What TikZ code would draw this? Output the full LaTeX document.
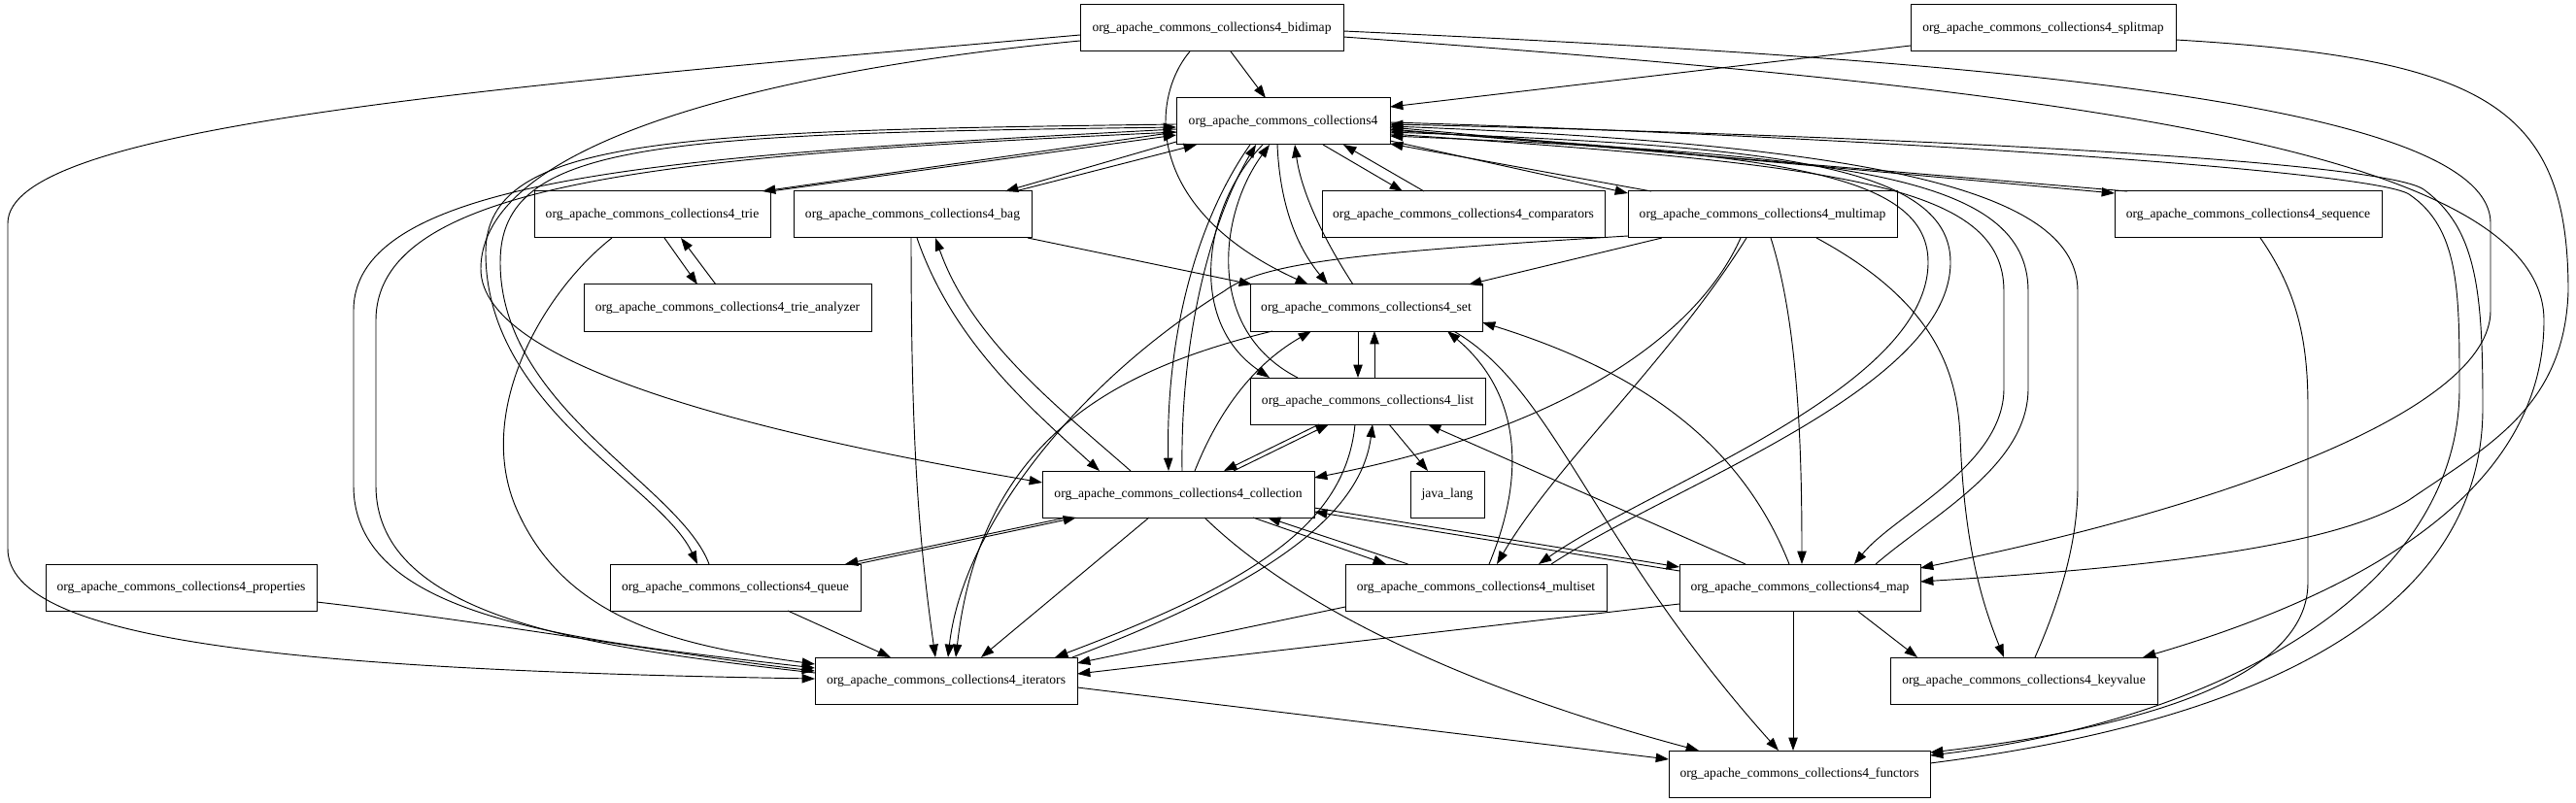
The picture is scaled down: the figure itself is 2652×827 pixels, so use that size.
\documentclass[tikz,border=0pt]{standalone}
\usepackage{fontspec}
\setmainfont{Liberation Serif}
\usetikzlibrary{calc,arrows.meta}
\begin{document}
\begin{tikzpicture}[x=0.75pt,y=-0.75pt,
  box/.style={draw,line width=0.75pt,rectangle,inner sep=0pt,minimum height=36pt,font=\fontsize{10.2}{12}\selectfont},
  bw/.style={minimum width=#1*0.75pt},
  e/.style={line width=0.7pt,-{Triangle[length=10pt,width=7pt]}}]
\useasboundingbox (0,0) rectangle (2652,827);
\node[box,bw=271] (B) at (1247.5,29) {org\_apache\_commons\_collections4\_bidimap};
\node[box,bw=273] (S) at (2103.5,29) {org\_apache\_commons\_collections4\_splitmap};
\node[box,bw=220] (C) at (1321,125) {org\_apache\_commons\_collections4};
\node[box,bw=243] (T) at (671.5,221) {org\_apache\_commons\_collections4\_trie};
\node[box,bw=245] (G) at (939.5,221) {org\_apache\_commons\_collections4\_bag};
\node[box,bw=296] (A) at (749,317) {org\_apache\_commons\_collections4\_trie\_analyzer};
\node[box,bw=291] (P) at (1506.5,221) {org\_apache\_commons\_collections4\_comparators};
\node[box,bw=277] (MM) at (1814.5,221) {org\_apache\_commons\_collections4\_multimap};
\node[box,bw=275] (Q) at (2314.5,221) {org\_apache\_commons\_collections4\_sequence};
\node[box,bw=239] (ST) at (1406.5,317) {org\_apache\_commons\_collections4\_set};
\node[box,bw=242] (L) at (1408,413) {org\_apache\_commons\_collections4\_list};
\node[box,bw=280] (CO) at (1213,509) {org\_apache\_commons\_collections4\_collection};
\node[box,bw=76] (J) at (1490,509) {java\_lang};
\node[box,bw=258] (QU) at (757,605) {org\_apache\_commons\_collections4\_queue};
\node[box,bw=279] (PR) at (186.5,605) {org\_apache\_commons\_collections4\_properties};
\node[box,bw=269] (MS) at (1519.5,605) {org\_apache\_commons\_collections4\_multiset};
\node[box,bw=248] (MP) at (1853,605) {org\_apache\_commons\_collections4\_map};
\node[box,bw=270] (IT) at (974,701) {org\_apache\_commons\_collections4\_iterators};
\node[box,bw=275] (KV) at (2083.5,701) {org\_apache\_commons\_collections4\_keyvalue};
\node[box,bw=269] (F) at (1852.5,797) {org\_apache\_commons\_collections4\_functors};
% bidimap
\draw[e] ($(B)+(19.5,24)$) -- ($(C)+(-18,-24)$);
\draw[e] ($(B)+(-22.5,24)$) .. controls (1185,100) and (1175,215) .. ($(ST)+(-59.5,-24)$);
\draw[e] ($(B)+(-135.5,13)$) .. controls (820,70) and (495,140) .. (495,277) .. controls (495,380) and (800,450) .. ($(CO)+(-140,-12)$);
\draw[e] ($(B)+(-135.5,7)$) .. controls (500,90) and (8,130) .. (8,230) -- (8,565) .. controls (8,660) and (300,690) .. ($(IT)+(-135,-2)$);
\draw[e] ($(B)+(135.5,3)$) .. controls (2000,60) and (2564,100) .. (2564,230) -- (2564,320) .. controls (2564,420) and (2300,520) .. ($(MP)+(124,-20)$);
\draw[e] ($(B)+(135.5,9)$) .. controls (2100,90) and (2619,150) .. (2619,330) .. controls (2619,520) and (2400,620) .. ($(KV)+(122.5,-24)$);
% splitmap
\draw[e] ($(S)+(-136.5,18)$) -- ($(C)+(110,-15)$);
\draw[e] ($(S)+(136.5,12)$) .. controls (2560,60) and (2644,110) .. (2644,300) .. controls (2640,420) and (2560,460) .. (2480,515) .. controls (2400,565) and (2200,585) .. ($(MP)+(124,-6)$);
% collections4 pairs
\draw[e] ($(C)+(-110,11)$) -- ($(T)+(113.5,-24)$);
\draw[e] ($(T)+(121.5,-24)$) -- ($(C)+(-110,14)$);
\draw[e] ($(C)+(-110,21)$) -- ($(G)+(95.5,-24)$);
\draw[e] ($(G)+(105.5,-24)$) -- ($(C)+(-89,24)$);
\draw[e] ($(C)+(41,24)$) -- ($(P)+(-62.5,-24)$);
\draw[e] ($(P)+(-40.5,-24)$) -- ($(C)+(62,24)$);
\draw[e] ($(C)+(110,20)$) -- ($(MM)+(-138.5,-22)$);
\draw[e] ($(MM)+(-114.5,-24)$) -- ($(C)+(110,23)$);
\draw[e] ($(C)+(110,6)$) -- ($(Q)+(-137.5,-22)$);
\draw[e] ($(Q)+(-124.5,-24)$) -- ($(C)+(110,8)$);
\draw[e] ($(C)+(-6,24)$) .. controls (1318,220) and (1340,260) .. ($(ST)+(-39.5,-24)$);
\draw[e] ($(ST)+(-13.5,-24)$) .. controls (1365,250) and (1340,200) .. ($(C)+(12,24)$);
\draw[e] ($(C)+(-21,24)$) .. controls (1240,210) and (1220,330) .. ($(L)+(-101,-24)$);
\draw[e] ($(L)+(-72,-24)$) .. controls (1240,340) and (1255,220) .. ($(C)+(-14,24)$);
\draw[e] ($(C)+(-34,24)$) .. controls (1230,230) and (1200,350) .. ($(CO)+(-10,-24)$);
\draw[e] ($(CO)+(4,-24)$) .. controls (1215,350) and (1245,230) .. ($(C)+(-28,24)$);
\draw[e] ($(C)+(-110,3)$) .. controls (700,135) and (500,140) .. (500,260) .. controls (500,420) and (680,500) .. ($(QU)+(-39,-24)$);
\draw[e] ($(QU)+(-27,-24)$) .. controls (700,500) and (515,420) .. (515,270) .. controls (515,145) and (680,138) .. ($(C)+(-110,6)$);
\draw[e] ($(C)+(-110,8)$) .. controls (700,160) and (364,180) .. (364,320) -- (364,500) .. controls (364,640) and (600,660) .. ($(IT)+(-135,-13)$);
\draw[e] ($(IT)+(-135,-8)$) .. controls (620,668) and (387,640) .. (387,500) -- (387,330) .. controls (387,185) and (700,160) .. ($(C)+(-110,11)$);
\draw[e] ($(C)+(110,9)$) .. controls (1800,160) and (1985,170) .. (1985,270) .. controls (1985,400) and (1700,500) .. ($(MS)+(64.5,-24)$);
\draw[e] ($(MS)+(77.5,-24)$) .. controls (1720,500) and (2008,400) .. (2008,270) .. controls (2008,165) and (1800,150) .. ($(C)+(110,11)$);
\draw[e] ($(C)+(110,13)$) .. controls (1900,170) and (2063,190) .. (2063,300) -- (2063,400) .. controls (2063,480) and (1950,530) .. ($(MP)+(56,-24)$);
\draw[e] ($(MP)+(78,-24)$) .. controls (1990,530) and (2088,480) .. (2088,400) -- (2088,300) .. controls (2088,180) and (1900,160) .. ($(C)+(110,15)$);
\draw[e] ($(KV)+(11.5,-24)$) .. controls (2120,620) and (2139,560) .. (2139,500) -- (2139,300) .. controls (2139,200) and (1950,150) .. ($(C)+(110,5)$);
\draw[e] ($(C)+(110,1)$) .. controls (1900,140) and (2440,175) .. (2480,200) .. controls (2532,235) and (2532,300) .. (2532,400) .. controls (2532,600) and (2300,740) .. ($(F)+(134.5,-19)$);
\draw[e] ($(F)+(134.5,-11)$) .. controls (2350,740) and (2556,620) .. (2556,420) .. controls (2556,300) and (2550,235) .. (2495,195) .. controls (2450,165) and (1950,140) .. ($(C)+(110,3)$);
% trie
\draw[e] ($(T)+(12.5,24)$) -- ($(A)+(-31,-24)$);
\draw[e] ($(A)+(-12,-24)$) -- ($(T)+(29.5,24)$);
\draw[e] ($(T)+(-41.5,24)$) .. controls (560,300) and (490,420) .. (530,520) .. controls (580,640) and (700,665) .. ($(IT)+(-135,-17)$);
% bag
\draw[e] ($(G)+(118.5,24)$) -- ($(ST)+(-117.5,-24)$);
\draw[e] ($(G)+(-1.5,24)$) .. controls (938,450) and (945,550) .. ($(IT)+(-11,-24)$);
\draw[e] ($(G)+(4.5,24)$) .. controls (980,350) and (1060,420) .. ($(CO)+(-81,-24)$);
\draw[e] ($(CO)+(-49,-24)$) .. controls (1090,420) and (1000,350) .. ($(G)+(23.5,24)$);
% multimap
\draw[e] ($(MM)+(-103.5,24)$) -- ($(ST)+(105.5,-24)$);
\draw[e] ($(MM)+(-138.5,22)$) .. controls (1400,260) and (1300,270) .. (1260,300) .. controls (1100,400) and (990,550) .. ($(IT)+(2,-24)$);
\draw[e] ($(MM)+(-22.5,24)$) .. controls (1750,340) and (1620,440) .. ($(CO)+(140,-17)$);
\draw[e] ($(MM)+(-16.5,24)$) .. controls (1720,370) and (1600,480) .. ($(MS)+(21.5,-24)$);
\draw[e] ($(MM)+(8.5,24)$) .. controls (1850,330) and (1855,450) .. ($(MP)+(2,-24)$);
\draw[e] ($(MM)+(55.5,24)$) .. controls (1990,310) and (2015,380) .. (2018,450) .. controls (2022,560) and (2040,620) .. ($(KV)+(-20.5,-24)$);
% sequence
\draw[e] ($(Q)+(12.5,24)$) .. controls (2365,300) and (2376,350) .. (2376,420) -- (2376,600) .. controls (2376,700) and (2200,750) .. ($(F)+(134.5,-22)$);
% set / list
\draw[e] ($(ST)+(-8.5,24)$) -- ($(L)+(-10,-24)$);
\draw[e] ($(L)+(7,-24)$) -- ($(ST)+(8.5,24)$);
\draw[e] ($(CO)+(17,-24)$) .. controls (1260,410) and (1300,370) .. ($(ST)+(-56.5,24)$);
\draw[e] ($(ST)+(-96.5,24)$) .. controls (1150,380) and (1010,450) .. ($(IT)+(10,-24)$);
\draw[e] ($(ST)+(90,24)$) .. controls (1600,400) and (1640,560) .. ($(F)+(-21.5,-24)$);
\draw[e] ($(L)+(22,24)$) -- ($(J)+(-20,-24)$);
\draw[e] ($(L)+(-50,24)$) -- ($(CO)+(47,-24)$);
\draw[e] ($(CO)+(57,-24)$) -- ($(L)+(-40,24)$);
\draw[e] ($(L)+(-13,24)$) .. controls (1385,540) and (1290,600) .. ($(IT)+(112,-24)$);
\draw[e] ($(IT)+(130,-24)$) .. controls (1280,610) and (1400,540) .. ($(L)+(5,24)$);
% map
\draw[e] ($(MP)+(-56,-24)$) -- ($(L)+(62,24)$);
\draw[e] ($(MP)+(-11,-24)$) .. controls (1790,450) and (1680,380) .. ($(ST)+(119.5,15)$);
\draw[e] ($(CO)+(140,14)$) -- ($(MP)+(-124,-21)$);
\draw[e] ($(MP)+(-124,-17)$) -- ($(CO)+(140,18)$);
\draw[e] ($(MP)+(-124,17)$) -- ($(IT)+(135,-7)$);
\draw[e] ($(MP)+(59,24)$) -- ($(KV)+(-109.5,-24)$);
\draw[e] ($(MP)+(-7,24)$) -- ($(F)+(-6.5,-24)$);
% collection
\draw[e] ($(CO)+(-30,24)$) -- ($(IT)+(36,-24)$);
\draw[e] ($(CO)+(27,24)$) .. controls (1350,640) and (1550,720) .. ($(F)+(-103.5,-24)$);
\draw[e] ($(CO)+(-115,24)$) -- ($(QU)+(113,-24)$);
\draw[e] ($(QU)+(125,-24)$) -- ($(CO)+(-105,24)$);
\draw[e] ($(CO)+(77,24)$) -- ($(MS)+(-92.5,-24)$);
\draw[e] ($(MS)+(-70,-24)$) -- ($(CO)+(92,24)$);
% multiset
\draw[e] ($(MS)+(13.5,-24)$) .. controls (1575,480) and (1560,400) .. ($(ST)+(83.5,24)$);
\draw[e] ($(MS)+(-134.5,20)$) -- ($(IT)+(135,-18)$);
% others
\draw[e] ($(QU)+(54,24)$) -- ($(IT)+(-57,-24)$);
\draw[e] ($(PR)+(139.5,15)$) .. controls (500,640) and (700,675) .. ($(IT)+(-135,-10)$);
\draw[e] ($(IT)+(135,7)$) -- ($(F)+(-134.5,-15)$);
\end{tikzpicture}
\end{document}
